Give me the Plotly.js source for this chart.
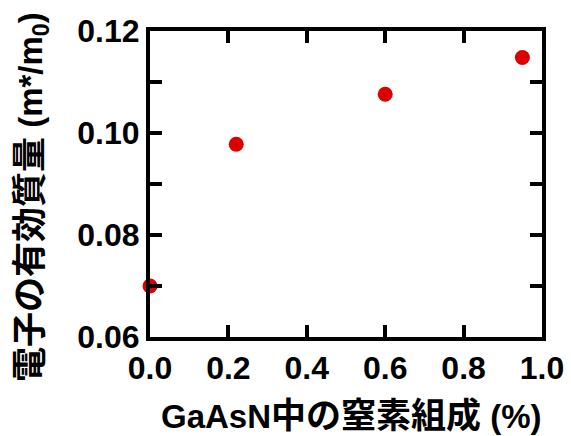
<!DOCTYPE html>
<html><head><meta charset="utf-8">
<script src="https://cdn.plot.ly/plotly-3.0.1.min.js"></script>
<style>html,body{margin:0;padding:0;background:#fff}</style>
</head><body>
<div id="chart" style="width:571px;height:436px"></div>
<script>
const nitrogen = [0.0, 0.22, 0.6, 0.95];
const effMass = [0.0700, 0.0978, 0.1076, 0.1148];
const LAT = 'font-size:33px;fill:#000;font-weight:bold';
const CJK = 'font-size:35px;fill:#000;font-weight:bold';
const lat = s => '<span style="' + LAT + '">' + s + '</span>';
const cjk = s => '<span style="' + CJK + '">' + s + '</span>';
const xTitle = lat('GaAsN') + cjk('中の窒素組成') + lat(' (%)');
const yTitle = cjk('電子の有効質量') + lat(' (m*/m') + '<sub>0</sub>' + lat(')');
const FONT = '"Liberation Sans", Arial, "Noto Sans CJK JP", sans-serif';

const trace = {
  x: nitrogen, y: effMass, type: 'scatter', mode: 'markers',
  cliponaxis: false,
  marker: {color: '#dd0000', size: 15}
};
const tickStyle = {ticks: 'inside', ticklen: 12, tickwidth: 4, tickcolor: '#000'};
const axisCommon = Object.assign({
  showline: true, mirror: 'ticks', linecolor: '#000', linewidth: 4,
  showgrid: false, zeroline: false,
  tickfont: {family: FONT, size: 32, color: '#000', weight: 'bold'}
}, tickStyle);
const titleFont = {family: FONT, size: 33, color: '#000', weight: 'bold'};
const layout = {
  width: 571, height: 436,
  margin: {l: 150, r: 29, t: 31, b: 99},
  paper_bgcolor: '#fff', plot_bgcolor: '#fff',
  showlegend: false,
  xaxis: Object.assign({}, axisCommon, {
    range: [0, 1.0], tick0: 0, dtick: 0.2, tickformat: '.1f'
  }),
  yaxis: Object.assign({}, axisCommon, {
    range: [0.06, 0.12], tick0: 0.06, dtick: 0.02, tickformat: '.2f',
    minor: Object.assign({dtick: 0.01, showgrid: false}, tickStyle)
  }),
  annotations: [
    {text: xTitle, xref: 'paper', yref: 'paper', x: 0.515, y: -0.3225,
     xanchor: 'center', yanchor: 'bottom', showarrow: false, font: titleFont, borderpad: 0},
    {text: yTitle, xref: 'paper', yref: 'paper', x: -0.301, y: 0.4575, textangle: -90,
     xanchor: 'center', yanchor: 'middle', showarrow: false, font: titleFont}
  ]
};
Plotly.newPlot('chart', [trace], layout, {displayModeBar: false, staticPlot: true});
</script>
</body></html>
